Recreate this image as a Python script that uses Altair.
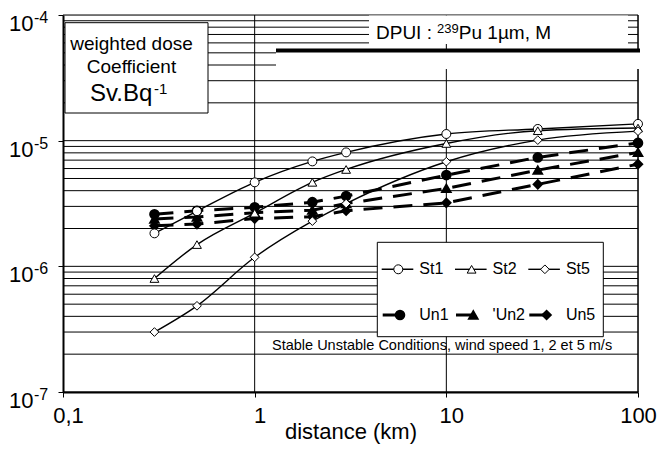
import altair as alt
import pandas as pd

# ---------------- data ----------------
distance = [0.3, 0.5, 1, 2, 3, 10, 30, 100]
st1 = [1.83e-6, 2.75e-6, 4.66e-6, 6.84e-6, 8.07e-6, 1.13e-5, 1.24e-5, 1.36e-5]
st2 = [8.0e-7, 1.49e-6, 2.65e-6, 4.66e-6, 5.9e-6, 9.5e-6, 1.2e-5, 1.26e-5]
st5 = [3.0e-7, 4.85e-7, 1.18e-6, 2.29e-6, 3.16e-6, 6.8e-6, 1.01e-5, 1.19e-5]
un1 = [2.6e-6, 2.77e-6, 2.95e-6, 3.24e-6, 3.62e-6, 5.32e-6, 7.36e-6, 9.6e-6]
un2 = [2.38e-6, 2.47e-6, 2.67e-6, 2.8e-6, 3.16e-6, 4.17e-6, 5.83e-6, 8.07e-6]
un5 = [2.1e-6, 2.17e-6, 2.4e-6, 2.48e-6, 2.77e-6, 3.2e-6, 4.49e-6, 6.5e-6]

series_names = ["St1", "St2", "St5", "Un1", "Un2", "Un5"]
legend_labels = ["St1", "St2", "St5", "Un1", "'Un2", "Un5"]
series_shapes = ["circle", "triangle-up", "diamond", "circle", "triangle-up", "diamond"]

x_ticks = [0.1, 1, 10, 100]
x_tick_labels = ["0,1", "1", "10", "100"]
y_ticks = [1e-7, 1e-6, 1e-5, 1e-4]
y_exponents = ["-7", "-6", "-5", "-4"]
x_grid = [1, 10, 100]

title_parts = ["DPUI : ", "239", "Pu 1µm, M"]
box_lines = ["weighted dose", "Coefficient"]
unit_text = "Sv.Bq"
unit_exp = "-1"
note_text = "Stable Unstable Conditions, wind speed 1, 2 et 5 m/s"
x_title = "distance (km)"

FONT = "Liberation Sans"
W, H = 575, 377

# ---------------- tables ----------------
rows = []
for name, vals in zip(series_names, [st1, st2, st5, un1, un2, un5]):
    for d, v in zip(distance, vals):
        rows.append({"series": name, "distance": d, "dose": v, "stable": name.startswith("St")})
df = pd.DataFrame(rows)

grid_vals = [m * 10.0 ** e for e in (-7, -6, -5) for m in range(1, 10)] + [1e-4]
grid_df = pd.DataFrame({"v": grid_vals})
xgrid_df = pd.DataFrame({"v": x_grid})
ytick_df = pd.DataFrame({"v": y_ticks, "exp": y_exponents, "x": [0.1] * 4})

xs = alt.Scale(type="log", domain=[0.1, 100], nice=False)
ys = alt.Scale(type="log", domain=[1e-7, 1e-4], nice=False)

label_expr = "[" + ",".join("'%s'" % s for s in x_tick_labels) + "][indexof([" + \
    ",".join(str(v) for v in x_ticks) + "], datum.value)]"

base = alt.Chart(df)

hgrid = alt.Chart(grid_df).mark_rule(color="black", strokeWidth=1).encode(
    y=alt.Y("v:Q", scale=ys, axis=alt.Axis(values=y_ticks, labels=False, tickSize=5, tickColor="black",
                                          tickWidth=1, domainColor="black", domainWidth=2, grid=False, title=None)),
)
vgrid = alt.Chart(xgrid_df).mark_rule(color="black", strokeWidth=1).encode(
    x=alt.X("v:Q", scale=xs, axis=alt.Axis(
        values=x_ticks, labelExpr=label_expr, labelFont=FONT,
        labelFontSize=22, labelColor="black", tickSize=5, tickColor="black",
        domainColor="black", domainWidth=2, grid=False, labelPadding=8,
        labelOffset={"condition": {"test": "datum.value >= 100", "value": 0}, "value": 5},
        labelFlush=False, title=x_title, titleFont=FONT,
        titleFontSize=22, titleFontWeight="normal", titleColor="black",
        titlePadding=-5)),
)

# white boxes (pixel decorations)
deco = pd.DataFrame({
    "x0": [306, 213, 2, 314.3], "x1": [565, 576, 145, 540.3],
    "y0": [0.5, 37, 7.7, 227.3], "y1": [29, 54, 98, 321.7],
    "stroke": [0, 0, 1, 1],
})
white_plain = alt.Chart(deco[deco.stroke == 0]).mark_rect(fill="white").encode(
    x=alt.X("x0:Q", scale=None), x2="x1:Q", y=alt.Y("y0:Q", scale=None), y2="y1:Q")
white_box = alt.Chart(deco[deco.stroke == 1]).mark_rect(fill="white", stroke="black", strokeWidth=1).encode(
    x=alt.X("x0:Q", scale=None), x2="x1:Q", y=alt.Y("y0:Q", scale=None), y2="y1:Q")

thick = alt.Chart(pd.DataFrame({"x0": [213], "x1": [577], "y": [35.5]})).mark_rule(
    color="black", strokeWidth=4).encode(x=alt.X("x0:Q", scale=None), x2="x1:Q", y=alt.Y("y:Q", scale=None))

un_lines = base.transform_filter("!datum.stable").mark_line(
    color="black", strokeWidth=3, strokeDash=[19, 11]).encode(
    x=alt.X("distance:Q", scale=xs), y=alt.Y("dose:Q", scale=ys), detail="series:N")
st_lines = base.transform_filter("datum.stable").mark_line(
    color="black", strokeWidth=1.4, interpolate="monotone").encode(
    x=alt.X("distance:Q", scale=xs), y=alt.Y("dose:Q", scale=ys), detail="series:N")

shape_scale = alt.Scale(domain=series_names, range=series_shapes)
size_scale = alt.Scale(domain=series_names, range=[80, 70, 55, 100, 85, 70])
un_pts = base.transform_filter("!datum.stable").mark_point(
    filled=True, fill="black", stroke="black", opacity=1).encode(
    x=alt.X("distance:Q", scale=xs), y=alt.Y("dose:Q", scale=ys),
    shape=alt.Shape("series:N", scale=shape_scale, legend=None),
    size=alt.Size("series:N", scale=size_scale, legend=None))
st_pts = base.transform_filter("datum.stable").mark_point(
    filled=True, fill="white", stroke="black", strokeWidth=1, opacity=1).encode(
    x=alt.X("distance:Q", scale=xs), y=alt.Y("dose:Q", scale=ys),
    shape=alt.Shape("series:N", scale=shape_scale, legend=None),
    size=alt.Size("series:N", scale=size_scale, legend=None))

# right frame
frame = alt.Chart(pd.DataFrame({"v": [100]})).mark_rule(color="black", strokeWidth=1).encode(
    x=alt.X("v:Q", scale=xs))

# y tick labels 10^k
ylab10 = alt.Chart(ytick_df).mark_text(text="10", font=FONT, fontSize=22, align="right",
                                       baseline="alphabetic", dx=-29.5, dy=16, color="black").encode(
    x=alt.X("x:Q", scale=xs), y=alt.Y("v:Q", scale=ys))
ylabexp = alt.Chart(ytick_df).mark_text(font=FONT, fontSize=16, align="left",
                                        baseline="alphabetic", dx=-29, dy=8, color="black").encode(
    x=alt.X("x:Q", scale=xs), y=alt.Y("v:Q", scale=ys), text="exp:N")

# legend
leg_rows = []
for i, (name, lab, shp) in enumerate(zip(series_names, legend_labels, series_shapes)):
    r, c = divmod(i, 3)
    x0 = 318.7 + 73.3 * c
    y = 254.3 + 45.7 * r
    st = name.startswith("St")
    leg_rows.append({"series": name, "label": lab, "stable": st,
                     "lx0": x0 if st else x0 + 1, "lx1": x0 + 31.6 if st else x0 + 18.3,
                     "mx": x0 + 16.6 if st else x0 + 18.3, "tx": x0 + 37.6, "y": y})
leg = pd.DataFrame(leg_rows)
leg_st_lines = alt.Chart(leg[leg.stable]).mark_rule(color="black", strokeWidth=1.4).encode(
    x=alt.X("lx0:Q", scale=None), x2="lx1:Q", y=alt.Y("y:Q", scale=None))
leg_un_lines = alt.Chart(leg[~leg.stable]).mark_rule(color="black", strokeWidth=3).encode(
    x=alt.X("lx0:Q", scale=None), x2="lx1:Q", y=alt.Y("y:Q", scale=None))
leg_st_pts = alt.Chart(leg[leg.stable]).mark_point(filled=True, fill="white", stroke="black",
                                                    strokeWidth=1, opacity=1).encode(
    x=alt.X("mx:Q", scale=None), y=alt.Y("y:Q", scale=None),
    shape=alt.Shape("series:N", scale=shape_scale, legend=None),
    size=alt.Size("series:N", scale=size_scale, legend=None))
leg_un_pts = alt.Chart(leg[~leg.stable]).mark_point(filled=True, fill="black", stroke="black",
                                                     opacity=1).encode(
    x=alt.X("mx:Q", scale=None), y=alt.Y("y:Q", scale=None),
    shape=alt.Shape("series:N", scale=shape_scale, legend=None),
    size=alt.Size("series:N", scale=size_scale, legend=None))
leg_text = alt.Chart(leg).mark_text(font=FONT, fontSize=16, align="left", baseline="middle",
                                    color="black").encode(
    x=alt.X("tx:Q", scale=None), y=alt.Y("y:Q", scale=None), text="label:N")

# annotation texts
texts = pd.DataFrame({
    "t": [title_parts[0], title_parts[1], title_parts[2], box_lines[0], box_lines[1],
          unit_text, unit_exp, note_text],
    "x": [313, 374, 395.8, 68.5, 68.5, 27, 91, 209],
    "y": [24.3, 17.8, 24.3, 35, 57.7, 85.5, 79, 335],
    "size": [19, 13, 19, 19, 19, 24, 15, 14.5],
    "align": ["left", "left", "left", "center", "center", "left", "left", "left"],
})
txt_layers = []
for _, r in texts.iterrows():
    txt_layers.append(alt.Chart(pd.DataFrame([r])).mark_text(
        font=FONT, fontSize=float(r["size"]), align=r["align"], baseline="alphabetic", color="black").encode(
        x=alt.X("x:Q", scale=None), y=alt.Y("y:Q", scale=None), text="t:N"))

chart = alt.layer(
    hgrid, vgrid, frame, white_plain, thick, white_box,
    un_lines, st_lines, un_pts, st_pts,
    leg_st_lines, leg_un_lines, leg_st_pts, leg_un_pts, leg_text,
    ylab10, ylabexp, *txt_layers,
).properties(
    width=W, height=H,
    autosize=alt.AutoSizeParams(type="none"),
    padding={"left": 55, "top": 7, "right": 20, "bottom": 54},
).configure_view(stroke=None).configure(background="white")

chart.save("out.html", embed_options={"renderer": "svg", "actions": False})
